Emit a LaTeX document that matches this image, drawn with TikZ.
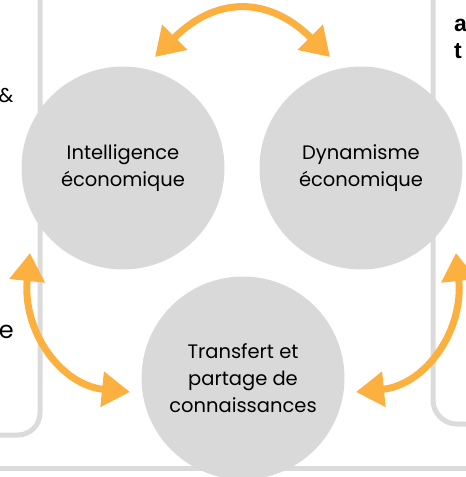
\documentclass[tikz,border=0pt]{standalone}
\usepackage{fontspec}
\setmainfont{Poppins}
\newfontfamily\boldsans{Liberation Sans}
\usetikzlibrary{arrows.meta}
\definecolor{circgray}{HTML}{D9D9D9}
\definecolor{linegray}{HTML}{DBDBDB}
\definecolor{arrorange}{HTML}{FBB040}
\tikzset{
  bubble/.style={circle, fill=circgray, draw=none, minimum size=203pt, inner sep=0pt,
    align=center, text=black, font=\fontsize{19.5}{27}\selectfont},
  panelline/.style={draw=linegray, line width=5pt},
  orarrow/.style={draw=arrorange, line width=7pt,
    {Triangle[length=28pt,width=34pt]}-{Triangle[length=28pt,width=34pt]}},
  sidetext/.style={inner sep=0pt, text=black},
  headtext/.style={sidetext, anchor=base west, font=\boldsans\bfseries\fontsize{23}{27}\selectfont}
}
\begin{document}
\begin{tikzpicture}[x=1pt,y=-1pt]
\useasboundingbox (0,0) rectangle (466,477);
\clip (0,0) rectangle (466,477);
% panels
\draw[panelline, rounded corners=22pt] (-10,435) -| (40,-10);
\draw[panelline, rounded corners=24pt] (476,424) -| (433,-10);
\draw[panelline] (-10,468) -- (476,468);
% side texts
\node[sidetext, anchor=base east, font=\fontsize{20}{24}\selectfont] (amp) at (13.5,102) {\&};
\node[sidetext, anchor=base east, font=\fontsize{24}{28}\selectfont] (ee) at (14,338) {e};
\node[headtext] (ta) at (454,31) {a};
\node[headtext] (tt) at (454,58) {t};
% circles
\node[bubble] (intel) at (123,168) {Intelligence\\économique};
\node[bubble] (dyn) at (361,168) {Dynamisme\\économique};
\node[bubble] (trans) at (243,378) {Transfert et\\partage de\\connaissances};
% arrow tips
\coordinate (ta1) at (155,57);
\coordinate (ta2) at (330,57);
\coordinate (tl1) at (30,253);
\coordinate (tl2) at (130,392);
\coordinate (tr1) at (456,253);
\coordinate (tr2) at (356,392);
\draw[orarrow] (ta1) .. controls (216,-4) and (269,-4) .. (ta2);
\draw[orarrow] (tl1) .. controls (22,330) and (60,385) .. (tl2);
\draw[orarrow] (tr1) .. controls (464,330) and (426,385) .. (tr2);
\end{tikzpicture}
\end{document}
